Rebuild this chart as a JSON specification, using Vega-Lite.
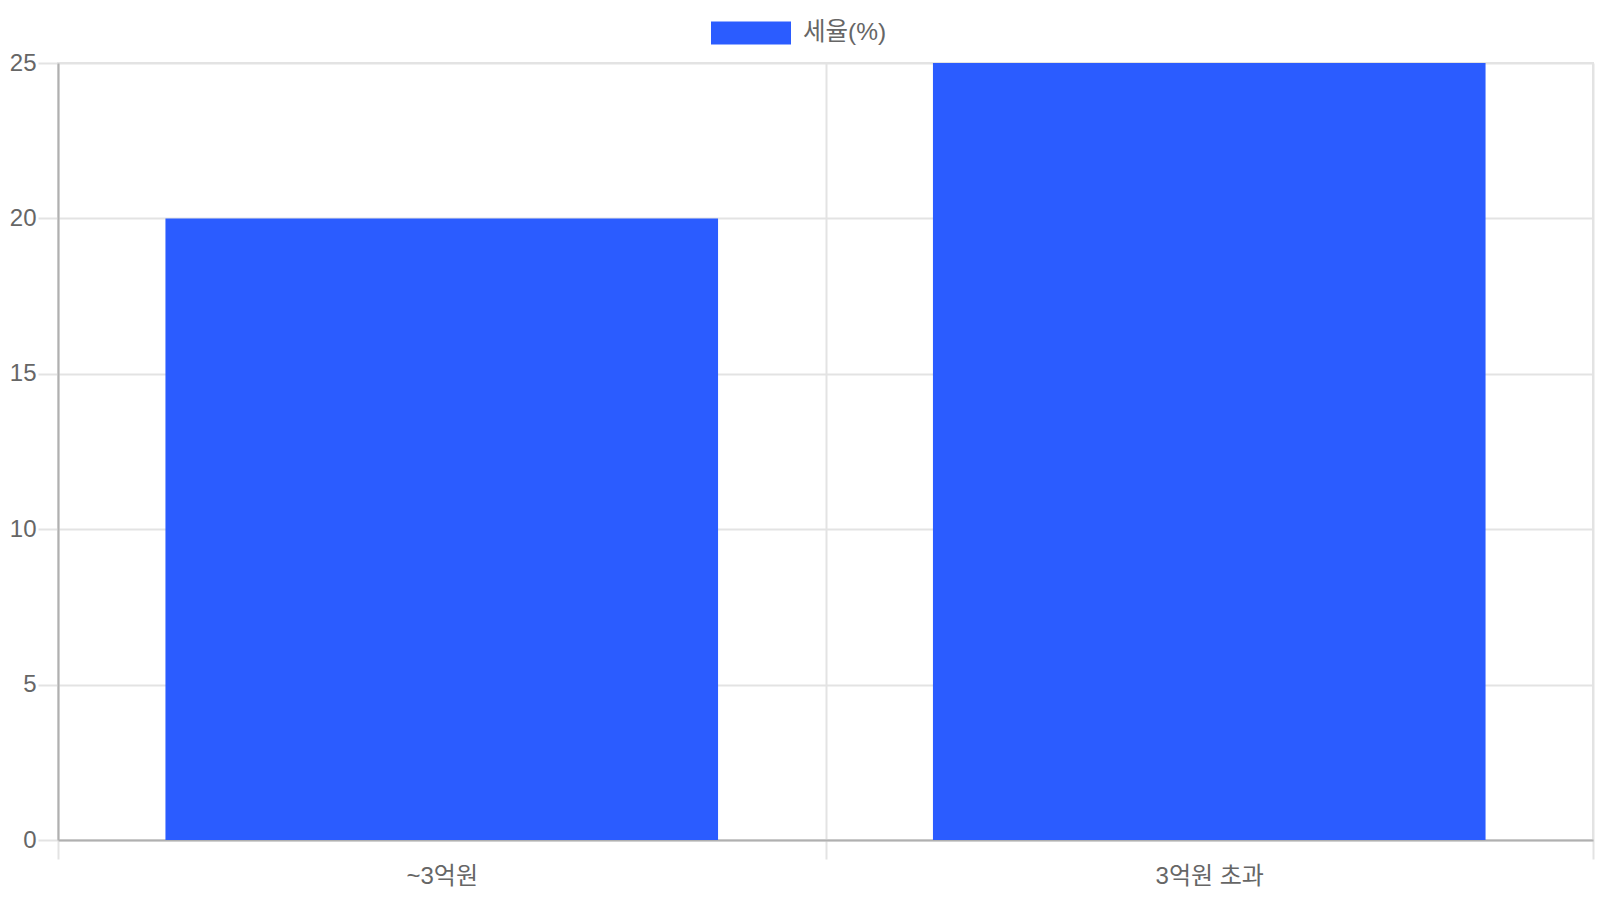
{
  "$schema": "https://vega.github.io/schema/vega-lite/v6.json",
  "width": 1535,
  "height": 777,
  "autosize": {"type": "none"},
  "padding": {"left": 58, "top": 63, "right": 7, "bottom": 60},
  "background": "white",
  "data": {
    "values": [
      {"category": "~3억원", "rate": 20, "series": "세율(%)"},
      {"category": "3억원 초과", "rate": 25, "series": "세율(%)"}
    ]
  },
  "mark": {"type": "bar", "width": {"band": 0.72}},
  "encoding": {
    "x": {
      "field": "category",
      "type": "nominal",
      "sort": null,
      "scale": {"paddingInner": 0, "paddingOuter": 0},
      "axis": {
        "title": null,
        "labelAngle": 0,
        "tickBand": "extent",
        "grid": true,
        "tickSize": 19,
        "labelPadding": 5
      }
    },
    "y": {
      "field": "rate",
      "type": "quantitative",
      "scale": {"domain": [0, 25], "nice": false},
      "axis": {
        "title": null,
        "values": [0, 5, 10, 15, 20, 25],
        "tickSize": 20,
        "labelPadding": 2
      }
    },
    "color": {
      "field": "series",
      "type": "nominal",
      "scale": {"range": ["#2b5cff"]},
      "legend": {
        "title": null,
        "orient": "none",
        "legendX": 653,
        "legendY": -70,
        "symbolType": "M-1,-0.2875H1V0.2875H-1Z",
        "symbolSize": 6400,
        "symbolStrokeWidth": 0,
        "symbolOpacity": 1,
        "labelFontSize": 24.5,
        "labelColor": "#666666",
        "labelOffset": 12,
        "labelFont": "Liberation Sans, Noto Sans CJK KR, sans-serif",
        "padding": 0
      }
    }
  },
  "config": {
    "view": {"stroke": "#e3e3e3", "strokeWidth": 2},
    "axis": {
      "labelFont": "Liberation Sans, Noto Sans CJK KR, sans-serif",
      "labelFontSize": 24,
      "labelColor": "#666666",
      "domainColor": "#b0b0b0",
      "domainWidth": 2,
      "gridColor": "#e3e3e3",
      "gridWidth": 2,
      "tickColor": "#e3e3e3",
      "tickWidth": 2
    }
  }
}
